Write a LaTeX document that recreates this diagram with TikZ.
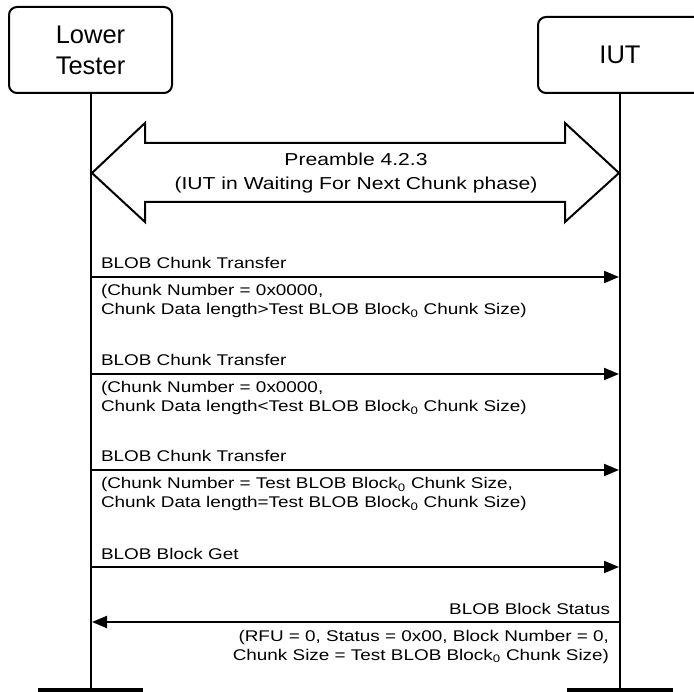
\documentclass[tikz,border=0pt]{standalone}
\usepackage{fontspec}
\setmainfont{Liberation Sans}
\newfontfamily\msgfont{Liberation Sans}[FakeStretch=1.22]
\usetikzlibrary{arrows.meta}
\usetikzlibrary{positioning}

\begin{document}
\begin{tikzpicture}[x=1pt,y=-1pt]
            \tikzset{every node/.style={inner sep=0pt, outer sep=0pt},
                    >={Triangle[length=15pt,width=12pt]},
                    every edge/.style={draw=black,line width=2pt},
                    entity/.style={draw, line width=2pt, rounded corners=8pt, align=center,
                                   font=\fontsize{25.5}{31}\selectfont},
                    msg/.style={font=\msgfont\fontsize{15.5}{19}\selectfont, align=left},
                    lifeline/.style={line width=2pt},
                    stopbar/.style={line width=4pt}}
            \useasboundingbox (0,0) rectangle (694,692);
            % entities
            \node[entity, minimum width=163pt, minimum height=86pt] (lt) at (90.5,50) {Lower\\Tester};
            \node[entity, minimum width=164pt, minimum height=76pt] (iut) at (620,55) {IUT};
            \coordinate (ltend) at (90.5,690);
            \coordinate (iutend) at (620,690);
            \draw[lifeline] (lt.south) -- (ltend);
            \draw[lifeline] (iut.south) -- (iutend);
            \draw[stopbar] ([xshift=-52.5pt]ltend) -- ([xshift=52.5pt]ltend);
            \draw[stopbar] ([xshift=-53pt]iutend) -- ([xshift=53pt]iutend);
            % preamble
            \draw[line width=2pt] (92,173) -- (145,123) -- (145,143) -- (565,143) -- (565,123)
                -- (619,173) -- (565,222) -- (565,202) -- (145,202) -- (145,222) -- cycle;
            \node[msg, align=center, font=\msgfont\fontsize{17.3}{24.5}\selectfont] (pre) at (356,173)
                {Preamble 4.2.3\\(IUT in Waiting For Next Chunk phase)};
            % messages
            \coordinate (a1) at (91,277);
            \coordinate (b1) at (619,277);
            \path [->] (a1) edge (b1);
            \node[msg, anchor=base west] (t1) at (101,269) {BLOB Chunk Transfer};
            \node[msg, below right=7.5pt and 10pt of a1] (p1)
                {(Chunk Number = 0x0000,\\Chunk Data length>Test BLOB Block\textsubscript{0} Chunk Size)};
            \coordinate (a2) at (91,374);
            \coordinate (b2) at (619,374);
            \path [->] (a2) edge (b2);
            \node[msg, anchor=base west] (t2) at (101,366) {BLOB Chunk Transfer};
            \node[msg, below right=7.5pt and 10pt of a2] (p2)
                {(Chunk Number = 0x0000,\\Chunk Data length<Test BLOB Block\textsubscript{0} Chunk Size)};
            \coordinate (a3) at (91,470);
            \coordinate (b3) at (619,470);
            \path [->] (a3) edge (b3);
            \node[msg, anchor=base west] (t3) at (101,462) {BLOB Chunk Transfer};
            \node[msg, below right=7.5pt and 10pt of a3] (p3)
                {(Chunk Number = Test BLOB Block\textsubscript{0} Chunk Size,\\Chunk Data length=Test BLOB Block\textsubscript{0} Chunk Size)};
            \coordinate (a4) at (91,567);
            \coordinate (b4) at (619,567);
            \path [->] (a4) edge (b4);
            \node[msg, anchor=base west] (t4) at (101,559) {BLOB Block Get};
            \coordinate (b5) at (619,622);
            \coordinate (a5) at (92,622);
            \path [->] (b5) edge (a5);
            \node[msg, anchor=base east] (t5) at (610,614) {BLOB Block Status};
            \node[msg, align=right, below left=8pt and 10pt of b5] (p5)
                {(RFU = 0, Status = 0x00, Block Number = 0,\\Chunk Size = Test BLOB Block\textsubscript{0} Chunk Size)};
        \end{tikzpicture}
\end{document}
